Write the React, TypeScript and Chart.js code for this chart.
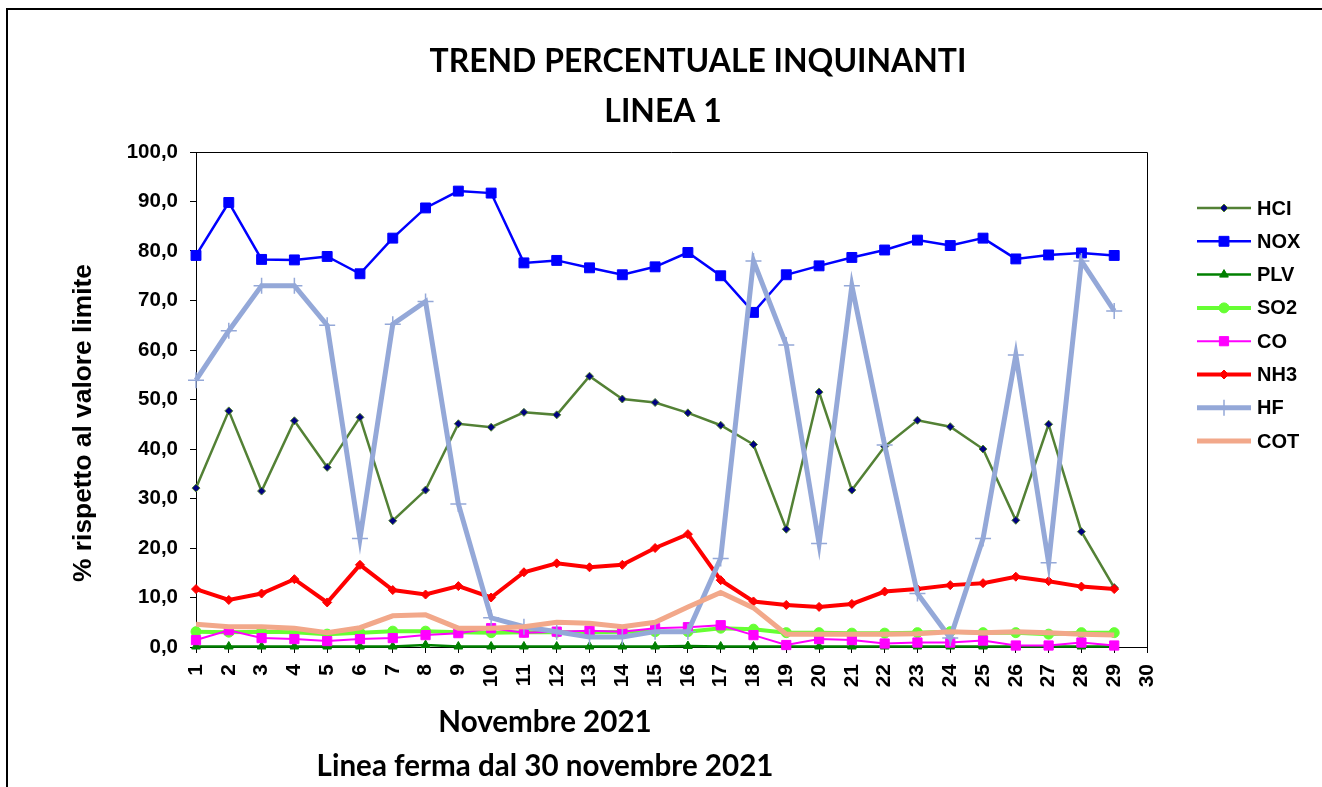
import React, { useEffect, useRef } from "react";
import { Chart, registerables } from "chart.js";

Chart.register(...registerables);

const days = ["1","2","3","4","5","6","7","8","9","10","11","12","13","14","15","16","17","18","19","20","21","22","23","24","25","26","27","28","29","30"];
const yTicks = [0, 10, 20, 30, 40, 50, 60, 70, 80, 90, 100];

const hcl = [32.1, 47.7, 31.5, 45.7, 36.3, 46.4, 25.5, 31.7, 45.1, 44.4, 47.4, 46.9, 54.7, 50.1, 49.4, 47.3, 44.8, 40.9, 23.8, 51.5, 31.7, 40.5, 45.8, 44.5, 40.0, 25.6, 45.0, 23.3, 12.0];
const nox = [79.1, 89.8, 78.3, 78.2, 78.9, 75.4, 82.6, 88.7, 92.1, 91.7, 77.6, 78.1, 76.6, 75.2, 76.8, 79.7, 75.0, 67.6, 75.2, 77.0, 78.7, 80.2, 82.2, 81.1, 82.6, 78.4, 79.2, 79.6, 79.1];
const plv = [0.1, 0.1, 0.1, 0.1, 0.1, 0.1, 0.1, 0.4, 0.1, 0.1, 0.1, 0.1, 0.1, 0.1, 0.1, 0.2, 0.1, 0.1, 0.1, 0.1, 0.1, 0.1, 0.1, 0.1, 0.1, 0.1, 0.1, 0.1, 0.1];
const so2 = [3.1, 3.0, 3.1, 3.0, 2.6, 2.9, 3.2, 3.2, 3.0, 2.9, 3.0, 3.0, 3.0, 3.1, 3.1, 3.1, 3.8, 3.6, 2.9, 2.9, 2.8, 2.8, 2.9, 3.1, 2.9, 2.9, 2.6, 2.9, 2.9];
const co = [1.4, 3.4, 1.8, 1.6, 1.2, 1.6, 1.8, 2.4, 2.8, 3.8, 2.9, 3.1, 3.3, 3.1, 3.8, 4.0, 4.4, 2.4, 0.4, 1.6, 1.4, 0.7, 0.9, 0.9, 1.3, 0.3, 0.3, 0.9, 0.3];
const nh3 = [11.7, 9.5, 10.8, 13.7, 9.0, 16.6, 11.5, 10.6, 12.3, 10.0, 15.1, 16.9, 16.1, 16.6, 20.0, 22.8, 13.5, 9.2, 8.5, 8.1, 8.7, 11.2, 11.7, 12.5, 12.9, 14.2, 13.3, 12.2, 11.7];
const hf = [53.9, 63.9, 73.0, 73.0, 65.0, 21.9, 65.2, 69.8, 28.9, 5.9, 4.1, 3.1, 2.0, 2.0, 3.1, 3.1, 17.9, 78.0, 61.0, 20.9, 73.0, 40.8, 10.8, 1.8, 21.9, 59.0, 17.0, 78.0, 67.9];
const cot = [4.6, 4.1, 4.1, 3.8, 2.9, 3.9, 6.3, 6.5, 3.8, 3.8, 4.1, 5.0, 4.8, 4.1, 5.0, 8.1, 11.0, 7.9, 2.6, 2.6, 2.6, 2.6, 2.7, 3.1, 2.9, 3.1, 2.9, 2.6, 2.4];

const seriesNames = ["HCI", "NOX", "PLV", "SO2", "CO", "NH3", "HF", "COT"];

type Marker = { style: string; r: number; fill: string; stroke: string; bw: number };

const lineColors = ["#538135", "#0000FF", "#008000", "#66FF33", "#FF00FF", "#FF0000", "#94A8D8", "#F2A88A"];
const lineWidths = [2.5, 2.5, 2.5, 4, 2, 4, 5, 5];
const markers: Marker[] = [
  { style: "rectRot", r: 4, fill: "#000080", stroke: "#538135", bw: 1 },
  { style: "rect", r: 7, fill: "#0000FF", stroke: "#0000FF", bw: 1 },
  { style: "triangle", r: 5, fill: "#008000", stroke: "#008000", bw: 1 },
  { style: "circle", r: 5, fill: "#66FF33", stroke: "#66FF33", bw: 1 },
  { style: "rect", r: 6.5, fill: "#FF00FF", stroke: "#FF00FF", bw: 1 },
  { style: "rectRot", r: 4.5, fill: "#FF0000", stroke: "#FF0000", bw: 1 },
  { style: "cross", r: 8, fill: "#94A8D8", stroke: "#94A8D8", bw: 1.5 },
  { style: "none", r: 0, fill: "#F2A88A", stroke: "#F2A88A", bw: 0 },
];
const seriesData = [hcl, nox, plv, so2, co, nh3, hf, cot];

const AXIS_FONT = "'Liberation Sans', Arial, sans-serif";
const TITLE_FONT = "Lato, 'Open Sans', sans-serif";

function drawMarker(ctx: CanvasRenderingContext2D, m: Marker, x: number, y: number) {
  if (m.style === "none") return;
  ctx.save();
  ctx.fillStyle = m.fill;
  ctx.strokeStyle = m.stroke;
  ctx.lineWidth = m.bw;
  ctx.beginPath();
  if (m.style === "rect") {
    const s = m.r * Math.SQRT1_2;
    ctx.rect(x - s, y - s, 2 * s, 2 * s);
    ctx.fill();
    ctx.stroke();
  } else if (m.style === "rectRot") {
    ctx.moveTo(x, y - m.r);
    ctx.lineTo(x + m.r, y);
    ctx.lineTo(x, y + m.r);
    ctx.lineTo(x - m.r, y);
    ctx.closePath();
    ctx.fill();
    ctx.stroke();
  } else if (m.style === "triangle") {
    ctx.moveTo(x, y - m.r);
    ctx.lineTo(x + m.r * 0.87, y + m.r * 0.5);
    ctx.lineTo(x - m.r * 0.87, y + m.r * 0.5);
    ctx.closePath();
    ctx.fill();
    ctx.stroke();
  } else if (m.style === "circle") {
    ctx.arc(x, y, m.r, 0, Math.PI * 2);
    ctx.fill();
    ctx.stroke();
  } else if (m.style === "cross") {
    ctx.moveTo(x - m.r, y);
    ctx.lineTo(x + m.r, y);
    ctx.moveTo(x, y - m.r);
    ctx.lineTo(x, y + m.r);
    ctx.stroke();
  }
  ctx.restore();
}

function fitSize(ctx: CanvasRenderingContext2D, text: string, family: string, width: number) {
  ctx.font = `bold 100px ${family}`;
  const w = ctx.measureText(text).width;
  return (100 * width) / w;
}

const decorPlugin = {
  id: "decor",
  beforeDraw(chart: any) {
    const ctx: CanvasRenderingContext2D = chart.ctx;
    ctx.save();
    ctx.fillStyle = "#ffffff";
    ctx.fillRect(0, 0, chart.width, chart.height);
    ctx.strokeStyle = "#000";
    ctx.lineWidth = 2;
    ctx.strokeRect(7, 9, chart.width + 40, chart.height + 40);
    ctx.restore();
  },
  beforeDatasetsDraw(chart: any) {
    const ctx: CanvasRenderingContext2D = chart.ctx;
    const a = chart.chartArea;
    ctx.save();
    ctx.strokeStyle = "#000";
    ctx.lineWidth = 1;
    ctx.beginPath();
    ctx.moveTo(a.left, a.top + 0.5);
    ctx.lineTo(a.right + 0.5, a.top + 0.5);
    ctx.lineTo(a.right + 0.5, a.bottom);
    ctx.stroke();
    ctx.restore();
  },
  afterDraw(chart: any) {
    const ctx: CanvasRenderingContext2D = chart.ctx;
    ctx.save();
    ctx.fillStyle = "#000";
    ctx.textAlign = "center";
    ctx.textBaseline = "middle";

    // main title
    const t1 = "TREND PERCENTUALE INQUINANTI";
    const ts = fitSize(ctx, t1, TITLE_FONT, 537);
    ctx.font = `bold ${ts}px ${TITLE_FONT}`;
    ctx.fillText(t1, 698, 62);
    ctx.fillText("LINEA 1", 663, 112);

    // x title
    const x2 = "Linea ferma dal 30 novembre 2021";
    const xs = fitSize(ctx, x2, TITLE_FONT, 457);
    ctx.font = `bold ${xs}px ${TITLE_FONT}`;
    ctx.fillText("Novembre 2021", 545, 722);
    ctx.fillText(x2, 545, 766);

    // y title
    const yt = "% rispetto al valore limite";
    const ys = fitSize(ctx, yt, AXIS_FONT, 318);
    ctx.save();
    ctx.translate(84, 423);
    ctx.rotate(-Math.PI / 2);
    ctx.font = `bold ${ys}px ${AXIS_FONT}`;
    ctx.fillText(yt, 0, 0);
    ctx.restore();

    // legend
    ctx.textAlign = "left";
    ctx.font = `bold 20px ${AXIS_FONT}`;
    for (let i = 0; i < seriesNames.length; i++) {
      const y = 208 + i * 33.3;
      ctx.save();
      ctx.strokeStyle = lineColors[i];
      ctx.lineWidth = lineWidths[i];
      ctx.beginPath();
      ctx.moveTo(1197, y);
      ctx.lineTo(1251, y);
      ctx.stroke();
      ctx.restore();
      drawMarker(ctx, markers[i], 1224, y);
      ctx.fillStyle = "#000";
      ctx.fillText(seriesNames[i], 1257, y + 1);
    }
    ctx.restore();
  },
};

export default function App() {
  const ref = useRef<HTMLCanvasElement | null>(null);

  useEffect(() => {
    if (!ref.current) return;
    const datasets = seriesNames.map((name, i) => ({
      label: name,
      data: seriesData[i],
      borderColor: lineColors[i],
      backgroundColor: markers[i].fill,
      borderWidth: lineWidths[i],
      pointStyle: markers[i].style === "none" ? false : markers[i].style,
      pointRadius: markers[i].r,
      pointBackgroundColor: markers[i].fill,
      pointBorderColor: markers[i].stroke,
      pointBorderWidth: markers[i].bw,
      tension: 0,
      fill: false,
      clip: false,
      order: seriesNames.length - i,
    }));

    const chart = new Chart(ref.current, {
      type: "line",
      data: { labels: days, datasets: datasets as any },
      plugins: [decorPlugin as any],
      options: {
        responsive: false,
        animation: false,
        devicePixelRatio: 1,
        layout: { padding: { left: 0, top: 152, right: 175, bottom: 0 } },
        plugins: { legend: { display: false }, title: { display: false }, tooltip: { enabled: false } },
        scales: {
          x: {
            type: "category",
            offset: false,
            border: { display: true, color: "#000", width: 1 },
            grid: { display: true, drawOnChartArea: false, drawTicks: true, tickLength: 6, color: "#000" },
            ticks: {
              autoSkip: false,
              minRotation: 90,
              maxRotation: 90,
              padding: 11,
              color: "#000",
              font: { family: AXIS_FONT, size: 21, weight: "bold" },
            },
            afterFit: (s: any) => { s.height = 140; },
          },
          y: {
            min: 0,
            max: 100,
            border: { display: true, color: "#000", width: 1 },
            grid: { display: true, drawOnChartArea: false, drawTicks: true, tickLength: 6, color: "#000" },
            afterBuildTicks: (s: any) => { s.ticks = yTicks.map((v) => ({ value: v })); },
            ticks: {
              padding: 12,
              color: "#000",
              font: { family: AXIS_FONT, size: 20.5, weight: "bold" },
              callback: (v: any) => Number(v).toFixed(1).replace(".", ","),
            },
            afterFit: (s: any) => { s.width = 196; },
          },
        },
      } as any,
    });
    return () => chart.destroy();
  }, []);

  return (
    <div style={{ position: "absolute", left: 0, top: 0, width: 1322, height: 787, background: "#fff" }}>
      <canvas ref={ref} width={1322} height={787} style={{ display: "block" }} />
    </div>
  );
}
